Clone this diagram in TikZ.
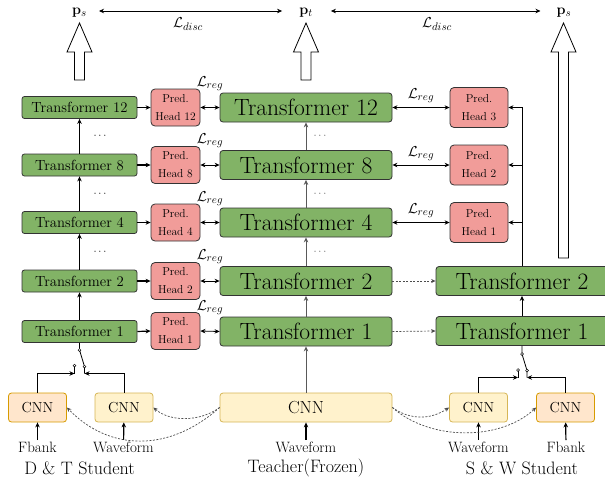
\documentclass[tikz,border=0pt]{standalone}
\usetikzlibrary{arrows.meta}
\definecolor{tgreen}{HTML}{82B366}
\definecolor{hred}{HTML}{F19C99}
\definecolor{cyel}{HTML}{FFF2CC}
\definecolor{cyelb}{HTML}{D6B656}
\definecolor{corg}{HTML}{FFE6CC}
\definecolor{corgb}{HTML}{D79B00}
\definecolor{bdr}{HTML}{333333}
\tikzset{
  sT/.style={draw=bdr, line width=0.8pt, fill=tgreen, rounded corners=2.5pt, minimum width=115pt, minimum height=22pt, inner sep=0pt, font=\fontsize{14.7}{16}\selectfont},
  bT/.style={sT, minimum width=172pt, minimum height=29pt, rounded corners=3pt, font=\fontsize{23.5}{26}\selectfont},
  phead/.style={draw=bdr, line width=0.8pt, fill=hred, rounded corners=4pt, minimum width=49pt, minimum height=37pt, inner sep=0pt, align=center, font=\fontsize{11.5}{18}\selectfont},
  pheadR/.style={phead, minimum width=58pt, minimum height=40pt},
  cnnY/.style={draw=cyelb, fill=cyel, line width=0.8pt, rounded corners=3pt, minimum width=58pt, minimum height=29pt, inner sep=0pt, font=\fontsize{14.5}{16}\selectfont},
  cnnO/.style={cnnY, draw=corgb, fill=corg},
  cnnB/.style={cnnY, minimum width=172pt, font=\fontsize{17.5}{20}\selectfont},
  inlab/.style={font=\fontsize{15}{17}\selectfont, inner sep=1.5pt},
  ttl/.style={font=\fontsize{18}{20}\selectfont, inner sep=0pt},
  mlab/.style={font=\fontsize{15.5}{17}\selectfont, inner sep=1pt},
  dotlab/.style={font=\fontsize{11}{12}\selectfont, inner sep=0pt},
  arr/.style={-{Stealth[length=5pt,width=4.5pt]}, line width=0.8pt, black},
  tarr/.style={-{Stealth[length=5pt,width=4.5pt]}, line width=1.2pt, black},
  garr/.style={-{Stealth[length=5pt,width=4.5pt]}, line width=1pt, black!65},
  darr/.style={{Stealth[length=5pt,width=4.5pt]}-{Stealth[length=5pt,width=4.5pt]}, line width=0.8pt, black},
  dsh/.style={-{Stealth[length=4.5pt,width=4pt]}, line width=0.7pt, black!70, dash pattern=on 2pt off 1.5pt},
  bigarr/.style={draw=black, fill=white, line width=0.8pt},
  swc/.style={draw=black, fill=white, line width=0.5pt},
  wire/.style={line width=0.8pt, black},
}
\newcommand\bigupar[3]{%
  \draw[bigarr] ({#1-5},#3) -- ({#1-5},{#2+29}) -- ({#1-12.5},{#2+29}) -- (#1,#2)
    -- ({#1+12.5},{#2+29}) -- ({#1+5},{#2+29}) -- ({#1+5},#3) -- cycle;}
\begin{document}
\begin{tikzpicture}[x=1pt,y=-1pt]
\useasboundingbox (0,0) rectangle (605,480);

% top labels
\node[mlab] (ps1) at (79.5,13) {$\mathbf{p}_s$};
\node[mlab] (pt) at (306,13) {$\mathbf{p}_t$};
\node[mlab] (ps2) at (564,13) {$\mathbf{p}_s$};
\draw[darr, line width=0.6pt, shorten <=11pt, shorten >=16pt] ([yshift=2pt]ps1.east) -- ([yshift=2pt]pt.west);
\draw[darr, line width=0.6pt, shorten <=17pt, shorten >=15pt] ([yshift=2pt]pt.east) -- ([yshift=2pt]ps2.west);
\node[mlab] (ld1) at (188,24) {$\mathcal{L}_{disc}$};
\node[mlab] (ld2) at (437,24) {$\mathcal{L}_{disc}$};

% big arrows
\bigupar{79.5}{23}{80}
\bigupar{306}{23}{80}
\bigupar{563.5}{23}{258}

% left student
\node[sT] (s12) at (79.5,107.5) {Transformer 12};
\node[sT] (s8) at (79.5,165) {Transformer 8};
\node[sT] (s4) at (79.5,222.5) {Transformer 4};
\node[sT] (s2) at (79.5,281) {Transformer 2};
\node[sT] (s1) at (79.5,331.5) {Transformer 1};

\node[phead] (hl12) at (175.5,107.5) {Pred.\\Head 12};
\node[phead] (hl8) at (175.5,165) {Pred.\\Head 8};
\node[phead] (hl4) at (175.5,222.5) {Pred.\\Head 4};
\node[phead] (hl2) at (175.5,281) {Pred.\\Head 2};
\node[phead] (hl1) at (175.5,331) {Pred.\\Head 1};

% teacher
\node[bT] (t12) at (306,107.5) {Transformer 12};
\node[bT] (t8) at (306,165) {Transformer 8};
\node[bT] (t4) at (306,222.5) {Transformer 4};
\node[bT] (t2) at (306,281) {Transformer 2};
\node[bT] (t1) at (306,331.5) {Transformer 1};

% right heads
\node[pheadR] (hr3) at (479,107.5) {Pred.\\Head 3};
\node[pheadR] (hr2) at (479,165) {Pred.\\Head 2};
\node[pheadR] (hr1) at (479,222.5) {Pred.\\Head 1};

% right student
\node[bT] (r2) at (522,281) {Transformer 2};
\node[bT] (r1) at (522,331) {Transformer 1};

% CNNs
\node[cnnO] (cf1) at (37.5,407.5) {CNN};
\node[cnnY] (cw1) at (124,407.5) {CNN};
\node[cnnB] (tc) at (306,407.5) {CNN};
\node[cnnY] (cw3) at (478.5,407.5) {CNN};
\node[cnnO] (cf3) at (565.5,407.5) {CNN};

% input labels
\node[inlab] (lf1) at (37.5,447) {Fbank};
\node[inlab] (lw1) at (123.5,447) {Waveform};
\node[inlab] (lwt) at (306,447) {Waveform};
\node[inlab] (lw3) at (478.5,447) {Waveform};
\node[inlab] (lf3) at (566,447) {Fbank};
\node[ttl] (ttl1) at (79.5,468) {D \& T Student};
\node[ttl] (ttl2) at (306,467.5) {Teacher(Frozen)};
\node[ttl] (ttl3) at (522,468) {S \& W Student};

\draw[tarr] (lf1) -- (cf1);
\draw[tarr] (lw1) -- (cw1);
\draw[tarr] (lwt) -- (tc);
\draw[tarr] (lw3) -- (cw3);
\draw[tarr] (lf3) -- (cf3);

% left column arrows
\draw[arr] (s1) -- (s2);
\draw[arr] (s2) -- (s4) node[midway, dotlab, xshift=20.5pt] {$\cdots$};
\draw[arr] (s4) -- (s8) node[midway, dotlab, xshift=20.5pt] {$\cdots$};
\draw[arr] (s8) -- (s12) node[midway, dotlab, xshift=20.5pt] {$\cdots$};
\foreach \a/\b in {s12/hl12, s8/hl8, s4/hl4, s2/hl2, s1/hl1}
  \draw[tarr] (\a.east) -- (\b.west);
\foreach \a/\b in {hl12/t12, hl8/t8, hl4/t4, hl2/t2, hl1/t1}
  \draw[darr] (\a.east) -- (\b.west) node[midway, mlab, yshift=24pt] {$\mathcal{L}_{reg}$};

% teacher column
\draw[garr] (tc) -- (t1);
\draw[garr] (t1) -- (t2);
\draw[garr] (t2) -- (t4) node[midway, dotlab, xshift=14pt] {$\cdots$};
\draw[garr] (t4) -- (t8) node[midway, dotlab, xshift=14pt] {$\cdots$};
\draw[garr] (t8) -- (t12) node[midway, dotlab, xshift=14pt] {$\cdots$};
\foreach \a/\b in {t12/hr3, t8/hr2, t4/hr1}
  \draw[darr] (\a.east) -- (\b.west) node[midway, mlab, yshift=11.5pt] {$\mathcal{L}_{reg}$};

% right column
\draw[arr] (r1) -- (r2);
\draw[arr] (r2.north) |- (hr3.east);
\draw[arr] (r2.north) |- (hr2.east);
\draw[arr] (r2.north) |- (hr1.east);
\draw[dsh] (t1.east) -- (r1.west);
\draw[dsh] (t2.east) -- (r2.west);

% dashed curves
\draw[dsh] (tc.west) .. controls (200,422) and (170,422) .. (cw1.east);
\draw[dsh] (tc.west) .. controls (170,452) and (110,452) .. (cf1.east);
\draw[dsh] (tc.east) .. controls (410,420) and (430,420) .. (cw3.west);
\draw[dsh] (tc.east) .. controls (430,441) and (500,441) .. (cf3.west);

% left switch
\coordinate (pv1) at (79.5,350);
\coordinate (kl1) at (74.5,365.5);
\coordinate (kr1) at (84.5,366.5);
\coordinate (el1) at (74.5,373.5);
\coordinate (er1) at (84.5,373.5);
\draw[wire] (s1.south) -- (pv1) -- (kr1) -- (er1);
\draw[wire] (kl1) -- (el1);
\draw[arr] (cf1.north) |- (el1);
\draw[arr] (cw1.north) |- (er1);
\foreach \c in {pv1,kl1,kr1} \draw[swc] (\c) circle (1.4pt);

% right switch
\coordinate (pv3) at (522,354);
\coordinate (kl3) at (518,370);
\coordinate (kr3) at (527,370.5);
\coordinate (el3) at (518,377.5);
\coordinate (er3) at (527,377.5);
\draw[wire] (r1.south) -- (pv3) -- (kr3) -- (er3);
\draw[wire] (kl3) -- (el3);
\draw[arr] (cw3.north) |- (el3);
\draw[arr] (cf3.north) |- (er3);
\foreach \c in {pv3,kl3,kr3} \draw[swc] (\c) circle (1.4pt);
\end{tikzpicture}
\end{document}
